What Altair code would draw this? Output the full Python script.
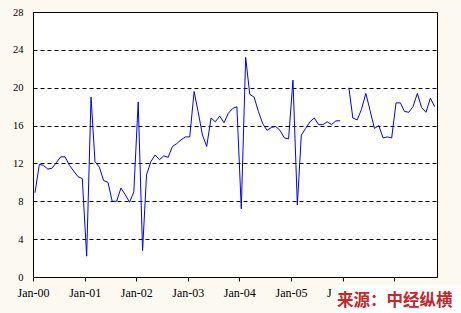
import altair as alt
import pandas as pd

# monthly values (Jan-2000 ... Oct-2007)
y2000 = [8.9, 11.9, 11.8, 11.4, 11.5, 12.1, 12.7, 12.7, 11.8, 11.2, 10.6, 10.4]
y2001 = [2.2, 19.0, 12.2, 11.6, 10.2, 10.0, 8.0, 8.0, 9.4, 8.7, 7.9, 9.0]
y2002 = [18.5, 2.8, 10.8, 12.2, 12.9, 12.4, 12.8, 12.65, 13.8, 14.1, 14.5, 14.8]
y2003 = [14.8, 19.6, 17.5, 15.0, 13.8, 16.8, 16.4, 17.0, 16.3, 17.3, 17.8, 18.0]
y2004 = [7.2, 23.2, 19.3, 19.0, 17.5, 16.2, 15.5, 15.8, 15.9, 15.5, 14.7, 14.6]
y2005 = [20.8, 7.6, 15.0, 15.7, 16.4, 16.8, 16.1, 16.1, 16.4, 16.1, 16.5, 16.5]
y2006 = [None, 20.0, 16.8, 16.6, 17.7, 19.4, 17.6, 15.7, 16.0, 14.7, 14.8, 14.7]
y2007 = [18.4, 18.4, 17.5, 17.4, 18.0, 19.4, 17.9, 17.4, 18.9, 18.0]

y_ticks = [0, 4, 8, 12, 16, 20, 24, 28]
x_tick_years = [2000, 2001, 2002, 2003, 2004, 2005, 2006, 2007]
source_text = "来源：中经纵横"

values = y2000 + y2001 + y2002 + y2003 + y2004 + y2005 + y2006 + y2007
dates = pd.date_range("2000-01-01", periods=len(values), freq="MS") + pd.Timedelta(days=14)
df = pd.DataFrame({"date": dates, "value": values})
df["seg"] = df["value"].isna().cumsum()
df = df.dropna()

x_scale = alt.Scale(domain=[alt.DateTime(year=2000, month=1, date=1),
                            alt.DateTime(year=2007, month=11, date=1)])

# the source box hides "Jan-07" and all of "Jan-06" but its "J"
is06 = "year(datum.value) == 2006"
x_axis = alt.Axis(
    values=[alt.DateTime(year=y, month=1, date=1) for y in x_tick_years],
    format="%b-%y",
    labelExpr="year(datum.value) == 2007 ? '' : (year(datum.value) == 2006 ? 'J' : datum.label)",
    labelAlign={"condition": {"test": is06, "value": "left"}, "value": "center"},
    labelOffset={"condition": {"test": is06, "value": -16}, "value": 0},
    grid=False, ticks=True, tickSize=4, tickColor="black", domainColor="black",
    labelFont="Liberation Serif", labelFontSize=12, labelColor="black",
    labelPadding=6, labelFlush=False, labelOverlap=False, labelBound=False, zindex=0,
)

line = alt.Chart(df).mark_line(color="#0000FF", strokeWidth=1).encode(
    x=alt.X("date:T", scale=x_scale, title=None, axis=x_axis),
    y=alt.Y("value:Q", scale=alt.Scale(domain=[0, 28], nice=False), title=None,
            axis=alt.Axis(values=y_ticks, grid=True, gridColor="black",
                          gridDash=[4, 3], gridWidth=1, gridOpacity=1,
                          ticks=False, tickSize=0, domainColor="black",
                          labelFont="Liberation Serif", labelFontSize=10.5,
                          labelColor="black", labelPadding=10, zindex=0)),
    detail="seg:N",
)

box = alt.Chart(pd.DataFrame({"t": [source_text]})).mark_rect(color="white").encode(
    x=alt.value(303), x2=alt.value(430), y=alt.value(273), y2=alt.value(302)
)
label = alt.Chart(pd.DataFrame({"t": [source_text]})).mark_text(
    color="#C8262A", font="Noto Sans CJK SC", fontWeight="bold", fontSize=16.5,
    align="left", baseline="middle"
).encode(text="t:N", x=alt.value(304), y=alt.value(288.5))

chart = alt.layer(line, box, label).properties(
    width=404, height=265,
    autosize=alt.AutoSizeParams(type="none"),
    padding={"left": 33, "top": 12, "right": 24, "bottom": 36},
    background="#FCF9F1",
).configure_view(fill="white", stroke="black", strokeWidth=1)

chart.save("out.html", embed_options={"renderer": "svg", "actions": False})
